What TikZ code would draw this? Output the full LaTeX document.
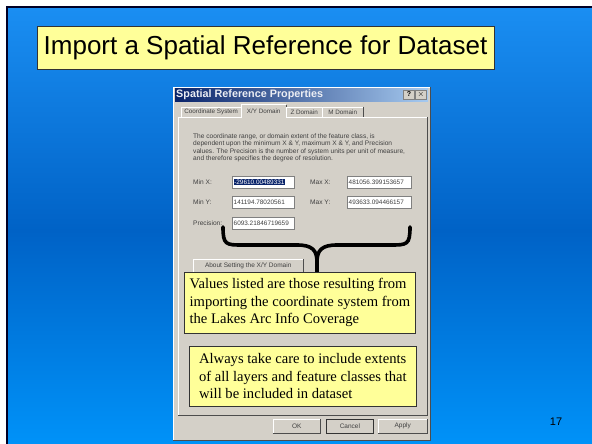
\documentclass[tikz,border=0pt]{standalone}
\usepackage{fontspec}
\setmainfont{Liberation Serif}
\newfontfamily\arial{Liberation Sans}
\definecolor{bgtop}{HTML}{1A8EF2}
\definecolor{bgmid}{HTML}{0062C6}
\definecolor{bgbot}{HTML}{0092F8}
\definecolor{notey}{HTML}{FFFF99}
\definecolor{dlg}{HTML}{D4D0C8}
\definecolor{navy}{HTML}{0A246A}
\definecolor{ltnavy}{HTML}{A6CAF0}
\definecolor{shadow}{HTML}{808080}
\definecolor{dlgtext}{HTML}{404040}
\tikzset{
  notebox/.style={draw=black!80, line width=0.8pt, fill=notey, inner sep=0, align=left,
    font=\fontsize{14.6}{17.5}\selectfont, anchor=north west},
  dlgfont/.style={font=\arial\fontsize{6.6}{7.4}\selectfont, text=dlgtext},
  field/.style={draw=shadow, fill=white, inner xsep=1.5pt, inner ysep=0, minimum height=12pt,
    text width=59pt, align=left, anchor=north west, font=\arial\fontsize{6.4}{7}\selectfont, text=dlgtext},
  flabel/.style={dlgfont, anchor=west, inner sep=0},
  tabbox/.style={draw=white, fill=dlg, inner sep=0, minimum height=10pt, anchor=south west,
    font=\arial\fontsize{6.3}{7}\selectfont, text=dlgtext},
  btn/.style={fill=dlg, inner sep=0, minimum height=14pt, anchor=north west,
    font=\arial\fontsize{6.5}{7}\selectfont, text=dlgtext},
  hilite/.style={white, line width=0.8pt},
  lowlite/.style={shadow!60!black, line width=0.8pt},
  bracepath/.style={line width=3.6pt, line cap=round, draw=black}
}
\begin{document}
\begin{tikzpicture}[x=1pt,y=-1pt]
\useasboundingbox (0,0) rectangle (592,444);
\fill[white] (0,0) rectangle (592,444);
\shade[top color=bgtop,bottom color=bgmid] (8,8) rectangle (592,231);
\shade[top color=bgmid,bottom color=bgbot] (8,230) rectangle (592,444);
\draw[line width=2pt, draw=black!85!blue] (7,446) -- (7,7) -- (594,7);

% title
\node[draw=black!80, line width=0.8pt, fill=notey, minimum width=457pt, minimum height=43pt, inner sep=0,
  font=\arial\fontsize{26}{30}\selectfont] (title) at (265.5,47.5) {Import a Spatial Reference for Dataset};

% dialog
\node[fill=dlg, minimum width=257pt, minimum height=353pt, anchor=north west, inner sep=0] (dialog) at (173,87) {};
\draw[hilite] (dialog.south west) -- (dialog.north west) -- (dialog.north east);
\draw[lowlite] (dialog.north east) -- (dialog.south east) -- (dialog.south west);
\node[left color=navy, right color=ltnavy, minimum width=253pt, minimum height=13pt, anchor=north west, inner sep=0] (tbar) at (175,88) {};
\node[anchor=west, inner sep=0, text=white!92!navy, font=\arial\bfseries\fontsize{10.8}{12}\selectfont] (ttext) at (176,94.5) {Spatial Reference Properties};
\node[fill=dlg, draw=shadow, minimum width=11pt, minimum height=9pt, inner sep=0, font=\arial\bfseries\fontsize{7}{7}\selectfont] (qbtn) at (409,94.5) {?};
\node[fill=dlg, draw=shadow, minimum width=11pt, minimum height=9pt, inner sep=0, font=\arial\bfseries\fontsize{8}{8}\selectfont] (xbtn) at (421,94.5) {$\times$};

% panel
\node[fill=dlg, minimum width=249pt, minimum height=298pt, anchor=north west, inner sep=0] (panel) at (178,117) {};
\draw[hilite] (panel.south west) -- (panel.north west) -- (panel.north east);
\draw[lowlite] (panel.north east) -- (panel.south east) -- (panel.south west);

% tabs
\node[tabbox, minimum width=60pt] (tab1) at (181,117) {Coordinate System};
\node[tabbox, minimum width=45pt, minimum height=13pt, draw=none] (tab2) at (241,118) {X/Y Domain};
\draw[hilite] (tab2.south west) -- (tab2.north west) -- (tab2.north east);
\draw[lowlite] (tab2.north east) -- (tab2.south east);
\node[tabbox, minimum width=36pt] (tab3) at (286,117) {Z Domain};
\draw[lowlite] (tab3.north east) -- (tab3.south east);
\node[tabbox, minimum width=41pt] (tab4) at (322,117) {M Domain};
\draw[lowlite] (tab4.north east) -- (tab4.south east);

% description
\node[dlgfont, anchor=north west, inner sep=0, align=left] (desc) at (193,133.5) {The coordinate range, or domain extent of the feature class, is\\
dependent upon the minimum X \& Y, maximum X \& Y, and Precision\\
values. The Precision is the number of system units per unit of measure,\\
and therefore specifies the degree of resolution.};

% fields
\node[flabel] (lminx) at (193,182) {Min X:};
\node[field] (fminx) at (232,176) {{\setlength\fboxsep{0.6pt}\colorbox{navy}{\textcolor{white}{-29610.00489331}}}};
\node[flabel] (lmaxx) at (310,182) {Max X:};
\node[field, text width=61pt] (fmaxx) at (347,176) {481056.399153657};
\node[flabel] (lminy) at (193,202) {Min Y:};
\node[field] (fminy) at (232,196) {141194.78020561};
\node[flabel] (lmaxy) at (310,202) {Max Y:};
\node[field, text width=61pt] (fmaxy) at (347,196) {493633.094466157};
\node[flabel] (lprec) at (193,223) {Precision:};
\node[field] (fprec) at (232,217) {6093.21846719659};

% about button
\node[btn, minimum width=110pt, minimum height=13pt] (about) at (193,259) {About Setting the X/Y Domain};
\draw[hilite] (about.south west) -- (about.north west) -- (about.north east);
\draw[lowlite] (about.north east) -- (about.south east) -- (about.south west);

% bottom buttons
\node[btn, minimum width=47pt] (ok) at (273,419) {OK};
\draw[hilite] (ok.south west) -- (ok.north west) -- (ok.north east);
\draw[lowlite] (ok.north east) -- (ok.south east) -- (ok.south west);
\node[btn, minimum width=47pt, draw=black!80, line width=0.8pt] (cancel) at (326,419) {Cancel};
\node[btn, minimum width=49pt] (apply) at (378,419) {Apply};
\draw[hilite] (apply.south west) -- (apply.north west) -- (apply.north east);
\draw[lowlite] (apply.north east) -- (apply.south east) -- (apply.south west);

% brace
\coordinate (bl) at (223,227);
\coordinate (br) at (410,227);
\coordinate (bm) at (317,272);
\draw[bracepath] (bl) .. controls (223,245) and (226,245) .. (243,245) -- (297,245)
   .. controls (312,245) and (317,250) .. (317,262) -- (bm);
\draw[bracepath] (br) .. controls (410,245) and (407,245) .. (390,245) -- (337,245)
   .. controls (322,245) and (317,250) .. (317,262);

% notes
\node[notebox, minimum width=231pt, minimum height=61pt] (note1) at (184,272) {Values listed are those resulting from\\
importing the coordinate system from\\
the Lakes Arc Info Coverage};
\node[notebox, minimum width=227pt, minimum height=60pt] (note2) at (189,346) {Always take care to include extents\\
of all layers and feature classes that\\
will be included in dataset};

% page number
\node[font=\arial\fontsize{11}{13}\selectfont, inner sep=0] (pnum) at (556,421.5) {17};
\end{tikzpicture}
\end{document}
